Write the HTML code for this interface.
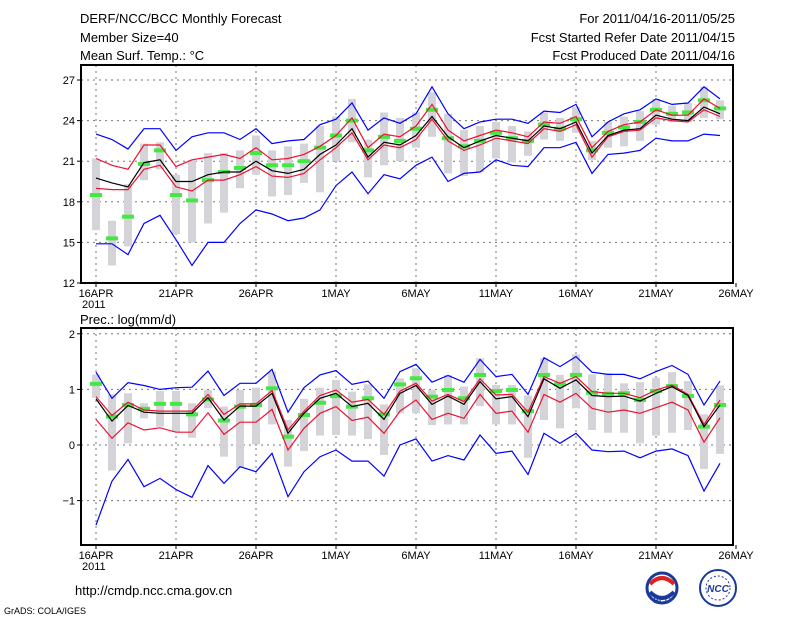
<!DOCTYPE html>
<html><head><meta charset="utf-8">
<style>
html,body{margin:0;padding:0;background:#fff;}
svg{display:block;font-family:"Liberation Sans","DejaVu Sans",sans-serif;}
</style></head>
<body>
<svg id="c" width="800" height="618" viewBox="0 0 800 618" xmlns="http://www.w3.org/2000/svg">
<text x="80" y="23" font-size="13">DERF/NCC/BCC Monthly Forecast</text>
<text x="80" y="42" font-size="13">Member Size=40</text>
<text x="80" y="60" font-size="13">Mean Surf. Temp.: °C</text>
<text x="735" y="23" font-size="13" text-anchor="end">For 2011/04/16-2011/05/25</text>
<text x="735" y="42" font-size="13" text-anchor="end">Fcst Started Refer Date 2011/04/15</text>
<text x="735" y="60" font-size="13" text-anchor="end">Fcst Produced Date 2011/04/16</text>
<text x="80" y="324" font-size="13">Prec.: log(mm/d)</text>
<text x="75" y="595" font-size="13">http://cmdp.ncc.cma.gov.cn</text>
<text x="4" y="614" font-size="9">GrADS: COLA/IGES</text>
<g>
<circle cx="662" cy="588" r="15" fill="#fff" stroke="#1a3a9a" stroke-width="3"/>
<path d="M650 584 Q662 572 674 584" fill="none" stroke="#d22" stroke-width="4"/>
<path d="M650 592 Q662 604 674 592" fill="none" stroke="#1a3a9a" stroke-width="4"/>
<text x="662" y="603" font-size="8" text-anchor="middle" fill="#1a3a9a" font-weight="bold">BCC</text>
</g>
<g>
<circle cx="718" cy="588" r="18" fill="#fff" stroke="#1a3a9a" stroke-width="2"/>
<circle cx="718" cy="588" r="12" fill="none" stroke="#1a3a9a" stroke-width="1" stroke-dasharray="2 2"/>
<text x="718" y="592" font-size="10" text-anchor="middle" fill="#1a3a9a" font-weight="bold" font-style="italic">NCC</text>
</g>
<g id="top"></g>
<g id="bot"></g>
</svg>
<script>
const days = ["16APR","21APR","26APR","1MAY","6MAY","11MAY","16MAY","21MAY","26MAY"];
const tTicks = [12,15,18,21,24,27];
const pTicks = [-1,0,1,2];
const tBlueUp = [23.0,22.6,21.9,23.4,23.4,21.8,22.8,23.1,23.1,22.6,23.4,22.3,22.5,22.6,23.7,24.1,25.3,23.3,24.2,23.8,24.5,26.5,24.5,23.4,23.9,24.1,24.1,23.8,24.7,24.6,25.2,22.8,23.9,24.5,24.8,25.6,25.2,25.3,26.5,25.6];
const tRedUp = [21.2,20.7,20.4,22.2,22.2,20.6,21.1,21.3,21.5,21.2,22.0,21.1,21.2,21.5,22.1,22.9,24.2,22.0,23.0,22.8,23.6,25.2,23.3,22.5,22.9,23.3,23.1,22.8,23.9,23.8,24.3,22.0,23.2,23.7,23.9,24.8,24.4,24.4,25.6,24.9];
const tMean = [19.75,19.4,19.1,20.9,21.1,19.5,19.5,20.0,20.2,20.2,21.0,20.3,20.1,20.4,21.5,22.2,23.4,21.3,22.4,22.2,22.9,24.3,22.8,22.0,22.5,22.9,22.7,22.5,23.6,23.4,23.9,21.6,22.9,23.3,23.4,24.4,24.1,24.0,25.0,24.5];
const tRedLo = [19.0,18.9,18.9,20.4,20.7,19.1,18.8,19.6,19.6,20.0,20.6,19.9,19.8,20.1,21.1,22.0,23.1,21.1,22.2,22.0,22.6,24.1,22.5,21.8,22.2,22.7,22.5,22.3,23.4,23.2,23.7,21.3,22.8,23.2,23.3,24.2,24.0,23.9,24.8,24.3];
const tBlueLo = [14.9,14.9,14.1,16.4,17.0,15.2,13.3,15.0,15.0,16.4,17.4,17.1,16.6,16.8,17.4,19.2,20.2,18.6,20.0,19.7,20.7,21.3,19.5,20.1,20.2,21.1,20.7,20.6,22.0,22.0,22.4,20.1,21.5,21.6,21.8,22.7,22.5,22.5,23.0,22.9];
const tObs = [18.5,15.3,16.9,20.8,21.8,18.5,18.1,19.6,20.2,20.5,21.6,20.7,20.7,21.0,22.0,22.9,24.0,21.8,22.8,22.5,23.4,24.8,22.7,22.1,22.5,23.1,22.7,22.5,23.7,23.4,24.1,21.8,23.1,23.5,23.9,24.8,24.5,24.6,25.5,24.9];
const tBarHi = [21.2,16.6,19.3,22.3,22.4,20.0,21.1,21.6,21.6,21.8,22.9,21.8,22.1,22.3,23.6,24.3,25.6,22.6,24.6,24.2,24.6,26.1,24.5,23.3,23.6,23.9,23.6,23.2,24.6,24.2,25.0,22.5,23.9,24.3,24.7,25.6,25.1,25.3,26.5,25.5];
const tBarLo = [15.9,13.3,14.7,19.6,20.4,15.6,15.0,16.4,17.2,19.0,20.0,18.4,18.5,19.4,18.7,21.0,22.4,19.8,20.7,21.0,22.0,22.8,20.1,19.9,20.2,21.2,20.9,21.4,22.6,22.5,23.1,21.1,22.0,22.1,22.5,23.7,23.9,23.9,24.2,24.1];
const pBlueUp = [1.31,0.84,1.12,1.07,1.0,1.03,1.04,1.33,0.89,1.11,1.11,1.36,0.59,1.03,1.26,1.34,1.09,1.15,0.84,1.32,1.45,1.13,1.25,1.13,1.54,1.23,1.27,0.91,1.57,1.41,1.59,1.31,1.27,1.27,1.19,1.32,1.43,1.27,0.72,1.15];
const pRedUp = [0.87,0.53,0.77,0.63,0.61,0.61,0.61,0.91,0.55,0.74,0.74,0.98,0.27,0.61,0.89,0.99,0.77,0.82,0.55,0.97,1.11,0.79,0.91,0.78,1.19,0.90,0.91,0.59,1.23,1.11,1.23,0.96,0.93,0.93,0.85,0.99,1.08,0.91,0.37,0.81];
const pMean = [0.83,0.43,0.71,0.59,0.57,0.57,0.57,0.85,0.45,0.70,0.70,0.93,0.21,0.57,0.84,0.93,0.69,0.75,0.46,0.93,1.07,0.73,0.88,0.73,1.14,0.83,0.87,0.51,1.19,1.02,1.17,0.89,0.87,0.88,0.79,0.93,1.05,0.89,0.33,0.72];
const pRedLo = [0.46,0.12,0.40,0.27,0.31,0.23,0.23,0.58,0.19,0.41,0.41,0.64,-0.09,0.30,0.57,0.69,0.44,0.50,0.21,0.61,0.81,0.46,0.57,0.48,0.91,0.57,0.61,0.23,0.91,0.77,0.93,0.66,0.59,0.63,0.57,0.67,0.77,0.63,0.05,0.49];
const pBlueLo = [-1.44,-0.65,-0.26,-0.75,-0.6,-0.8,-0.94,-0.37,-0.69,-0.39,-0.48,-0.15,-0.93,-0.48,-0.21,-0.09,-0.29,-0.29,-0.56,0,0.11,-0.29,-0.19,-0.27,0.18,-0.15,-0.11,-0.53,0.21,0.03,0.21,-0.09,-0.12,-0.11,-0.23,-0.11,-0.07,-0.19,-0.83,-0.33];
const pObs = [1.10,0.51,0.72,0.65,0.74,0.74,0.55,0.82,0.44,0.69,0.72,1.02,0.15,0.54,0.76,0.88,0.69,0.84,0.55,1.09,1.2,0.87,0.99,0.84,1.26,0.97,0.99,0.61,1.26,1.09,1.26,0.94,0.92,0.93,0.81,0.97,1.06,0.88,0.33,0.72];
const pBarHi = [1.27,0.91,0.93,0.75,0.97,0.97,0.75,0.99,0.69,0.99,1.03,1.32,0.45,0.83,1.03,1.17,0.96,1.09,0.73,1.2,1.38,0.99,1.26,1.05,1.56,1.08,1.08,0.89,1.56,1.26,1.63,1.27,1.29,1.11,1.13,1.21,1.31,1.15,0.55,1.07];
const pBarLo = [0.85,-0.46,0.03,0.48,0.33,0.24,0.13,0.66,-0.21,-0.41,0.01,0.37,-0.39,-0.11,0.17,0.18,0.17,0.11,-0.18,0.57,0.57,0.36,0.37,0.37,0.70,0.37,0.37,-0.23,0.45,0.30,0.66,0.27,0.22,0.22,0.03,0.17,0.22,0.27,-0.43,-0.16];

const NS="http://www.w3.org/2000/svg";
const svg=document.getElementById('c');
function mk(parent,tag,attrs){const e=document.createElementNS(NS,tag);for(const k in attrs)e.setAttribute(k,attrs[k]);parent.appendChild(e);return e;}
const X0=96, DX=16, L=81, R=733;
function xs(i){return X0+DX*i;}

function panel(g,top,bot,vmin,vmax,ticks,series,showYear,pre){
  const ys=v=>bot-(v-vmin)/(vmax-vmin)*(bot-top);
  // grid
  days.forEach((d,k)=>{
    const x=xs(5*k);
    if(x>L+1&&x<R-1){const l=mk(g,'line',{x1:x,x2:x,y1:top,y2:bot,stroke:'#777','stroke-dasharray':'2 4','stroke-width':1});
      }
    const t=mk(g,'text',{x:x,y:bot+14,'font-size':11,'text-anchor':'middle'});t.textContent=d;
    
    const tk=mk(g,'line',{x1:x,x2:x,y1:bot,y2:bot+4,stroke:'#000'});
    
  });
  if(showYear){const t=mk(g,'text',{x:82,y:bot+25,'font-size':11});t.textContent='2011';
    }
  ticks.forEach(v=>{
    const y=ys(v);
    if(y>top+1&&y<bot-1){const l=mk(g,'line',{x1:L,x2:R,y1:y,y2:y,stroke:'#777','stroke-dasharray':'2 4'});
      }
    const t=mk(g,'text',{x:L-6,y:y+4,'font-size':11,'text-anchor':'end'});t.textContent=String(v).replace('-','\u2212');
    
    const tk=mk(g,'line',{x1:L-4,x2:L,y1:y,y2:y,stroke:'#000'});
    
  });
  // bars
  series.barHi.forEach((h,i)=>{
    const y1=ys(h),y2=ys(series.barLo[i]);
    const r=mk(g,'rect',{x:xs(i)-4,y:y1,width:8,height:y2-y1,fill:'#d4d4d8'});
    
  });
  series.obs.forEach((v,i)=>{
    const r=mk(g,'rect',{x:xs(i)-6,y:ys(v)-2,width:12,height:4,fill:'#44e844'});
    
  });
  const lines=[[series.blueLo,'#0000ff','blue-lower-line'],[series.blueUp,'#0000ff','blue-upper-line'],
    [series.redLo,'#ee1133','red-lower-line'],[series.redUp,'#ee1133','red-upper-line'],[series.mean,'#000','ensemble-mean-line']];
  lines.forEach(([arr,col,nm])=>{
    const p=mk(g,'polyline',{points:arr.map((v,i)=>xs(i)+','+ys(v).toFixed(1)).join(' '),fill:'none',stroke:col,'stroke-width':1.2});
    
  });
  const f=mk(g,'rect',{x:L,y:top,width:R-L,height:bot-top,fill:'none',stroke:'#000','stroke-width':2});
  
}
// top: 27 at y=80, 12 at y=283 -> frame top 65
panel(document.getElementById('top'),65,283,12,12+15*(283-65)/(283-80),tTicks,
  {barHi:tBarHi,barLo:tBarLo,obs:tObs,blueUp:tBlueUp,redUp:tRedUp,mean:tMean,redLo:tRedLo,blueLo:tBlueLo},true,'temp-');
// bottom: 0 at 445, 55.6px/unit, frame 328..545
panel(document.getElementById('bot'),328,545,(445-545)/55.6,(445-328)/55.6,pTicks,
  {barHi:pBarHi,barLo:pBarLo,obs:pObs,blueUp:pBlueUp,redUp:pRedUp,mean:pMean,redLo:pRedLo,blueLo:pBlueLo},true,'precip-');
</script>
</body></html>
